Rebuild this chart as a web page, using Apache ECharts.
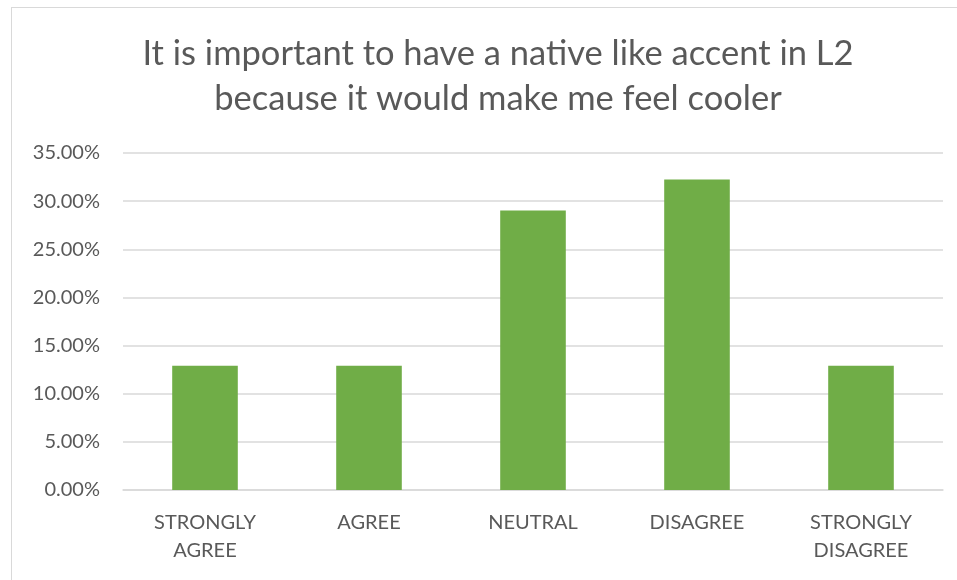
<!DOCTYPE html>
<html>
<head>
<meta charset="utf-8">
<script src="https://cdn.jsdelivr.net/npm/echarts@6/dist/echarts.min.js"></script>
<style>
  html, body { margin: 0; padding: 0; background: #fff; overflow: hidden; }
  #chart { position: absolute; left: 11px; top: 7px; width: 960px; height: 600px;
           border: 1px solid #d9d9d9; box-sizing: border-box; }
</style>
</head>
<body>
<div id="chart"></div>
<script>
const titleLines = ['It is important to have a native like accent in L2', 'because it would make me feel cooler'];
const categories = ['STRONGLY\nAGREE', 'AGREE', 'NEUTRAL', 'DISAGREE', 'STRONGLY\nDISAGREE'];
const shares = [12.90, 12.90, 29.03, 32.26, 12.90];
const yTicks = { min: 0, max: 35, step: 5 };

const chart = echarts.init(document.getElementById('chart'), null, { renderer: 'canvas' });
chart.setOption({
  animation: false,
  textStyle: { fontFamily: 'Lato' },
  title: {
    text: titleLines.join('\n'),
    left: 481, top: 18, textAlign: 'center',
    textStyle: { fontFamily: 'Lato', fontSize: 34.5, fontWeight: 'normal', color: '#595959', lineHeight: 45 }
  },
  grid: { left: 111, right: 27, top: 145, bottom: 116 },
  xAxis: {
    type: 'category',
    data: categories,
    axisLine: { lineStyle: { color: '#d9d9d9', width: 1.5 } },
    axisTick: { show: false },
    axisLabel: { color: '#595959', fontSize: 20, lineHeight: 28, margin: 19, fontFamily: 'Lato' }
  },
  yAxis: {
    type: 'value',
    min: yTicks.min, max: yTicks.max, interval: yTicks.step,
    axisLine: { show: false },
    axisTick: { show: false },
    splitLine: { lineStyle: { color: '#d9d9d9', width: 1.5 } },
    axisLabel: { color: '#595959', fontSize: 20, margin: 23, fontFamily: 'Lato',
                 formatter: v => v.toFixed(2) + '%' }
  },
  series: [{
    type: 'bar',
    data: shares,
    barCategoryGap: '60%',
    itemStyle: { color: '#70ad47' }
  }]
});
</script>
</body>
</html>
